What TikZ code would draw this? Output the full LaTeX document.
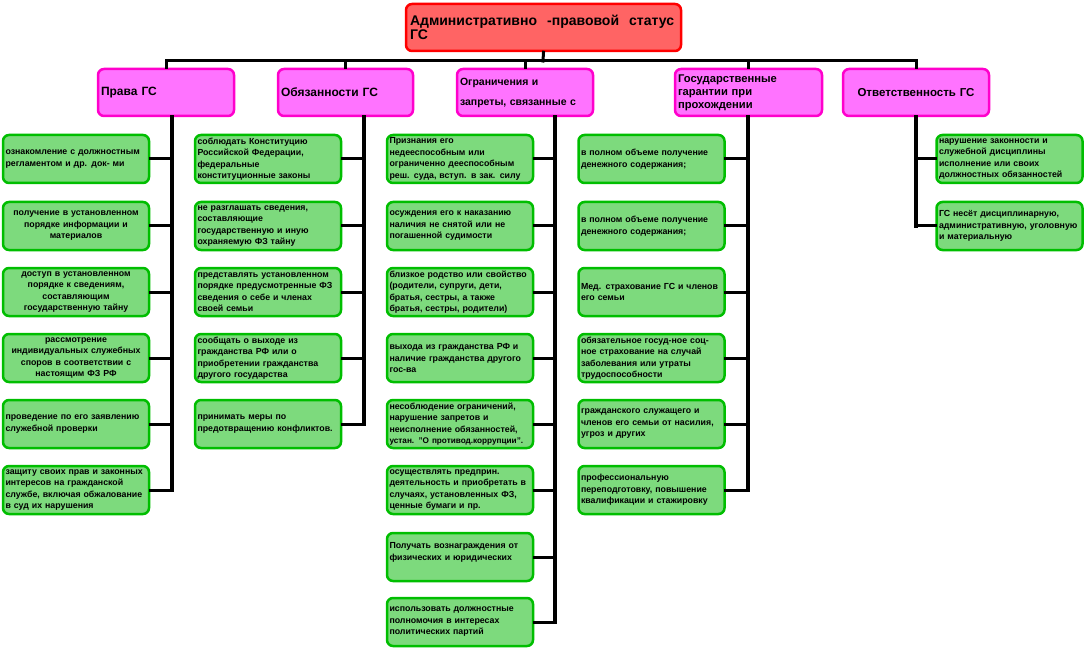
\documentclass[tikz,border=0pt]{standalone}
\usepackage{fontspec}
\setmainfont{Liberation Sans}
\usepackage{tikz}
\definecolor{leafgreen}{RGB}{0,190,0}
\definecolor{leaffill}{RGB}{125,218,125}
\definecolor{headmag}{RGB}{255,0,204}
\definecolor{headfill}{RGB}{255,115,255}
\definecolor{rootred}{RGB}{255,0,0}
\definecolor{rootfill}{RGB}{255,100,100}
\tikzset{%
    leaf/.style={%
        draw=leafgreen, fill=leaffill, line width=2.5pt, rounded corners=6pt,
        minimum width=146pt, minimum height=48pt, text width=141pt, inner sep=2.5pt,
        align=left, font=\fontsize{8.8}{11.5}\selectfont\bfseries
    },
    head/.style={%
        draw=headmag, fill=headfill, line width=2.5pt, rounded corners=6pt,
        minimum height=47pt, inner sep=3pt, align=left,
        font=\fontsize{12}{13}\selectfont\bfseries
    },
    root/.style={%
        draw=rootred, fill=rootfill, line width=2.5pt, rounded corners=6pt,
        minimum width=275pt, minimum height=47pt, text width=267pt, inner sep=4pt,
        align=left, font=\fontsize{14}{13.5}\selectfont\bfseries
    },
    link/.style={line width=3pt, line cap=rect},
    trunk/.style={line width=4pt, line cap=rect}
}

\begin{document}
\begin{tikzpicture}[x=1pt,y=-1pt]
    \useasboundingbox (0,0) rectangle (1088,650);
    \node[root] (status) at (543.5,27.5) {\makebox[264pt][s]{Административно\hfill -правовой\hfill статус}\\ГС};
    \node[head,text width=130pt] (prava) at (166,92.5) {Права ГС};
    \node[head,text width=129pt] (obyaz) at (345.5,92.5) {Обязанности ГС};
    \node[head,text width=130pt,font=\fontsize{10.5}{12}\selectfont\bfseries] (ogran) at (525,92.5) {Ограничения и\\[8pt]запреты, связанные с};
    \node[head,text width=141pt,font=\fontsize{11.2}{13}\selectfont\bfseries] (garant) at (748.5,92.5) {Государственные\\гарантии при\\прохождении};
    \node[head,text width=140pt,align=center,font=\fontsize{11.5}{13}\selectfont\bfseries] (otvet) at (916,92.5) {Ответственность ГС};
    % шина
    \coordinate (bus) at (543,61);
    \draw[link] (status.south) -- (bus);
    \draw[link] (prava.north) -- (prava.north |- bus) -- (otvet.north |- bus) -- (otvet.north);
    \foreach \h in {obyaz,ogran,garant}
    {
    \draw[link] (\h.north) -- (\h.north |- bus);
    }
    % права
    \coordinate (pbot) at (172,490);
    \draw[trunk] (prava.south -| pbot) -- (pbot);
    \foreach \y/\al/\txt [count=\i] in {%
        159/left/{ознакомление с должностным\\регламентом и др. док- ми},
        226/center/{получение в установленном\\порядке информации и\\материалов},
        292/center/{доступ в установленном\\порядке к сведениям,\\составляющим\\государственную тайну},
        358/center/{рассмотрение\\индивидуальных служебных\\споров в соответствии с\\настоящим ФЗ РФ},
        424/left/{проведение по его заявлению\\служебной проверки},
        490/left/{защиту своих прав и законных\\интересов на гражданской\\службе, включая обжалование\\в суд их нарушения}}
    {
    \node[leaf,align=\al] (p\i) at (76,\y) {\txt};
    \draw[link] (p\i.east) -- (p\i.east -| pbot);
    }
    % обязанности
    \coordinate (obot) at (364,424);
    \draw[trunk] (obyaz.south -| obot) -- (obot);
    \foreach \y/\txt [count=\i] in {%
        159/{соблюдать Конституцию\\Российской Федерации,\\федеральные\\конституционные законы},
        226/{не разглашать сведения,\\составляющие\\государственную и иную\\охраняемую ФЗ тайну},
        292/{представлять установленном\\порядке предусмотренные ФЗ\\сведения о себе и членах\\своей семьи},
        358/{сообщать о выходе из\\гражданства РФ или о\\приобретении гражданства\\другого государства},
        424/{принимать меры по\\предотвращению конфликтов.}}
    {
    \node[leaf] (o\i) at (268,\y) {\txt};
    \draw[link] (o\i.east) -- (o\i.east -| obot);
    }
    % ограничения и запреты
    \coordinate (zbot) at (555,622);
    \draw[trunk] (ogran.south -| zbot) -- (zbot);
    \foreach \y/\txt [count=\i] in {%
        159/{Признания его\\недееспособным или\\ограниченно дееспособным\\реш. суда, вступ. в зак. силу},
        226/{осуждения его к наказанию\\наличия не снятой или не\\погашенной судимости},
        292/{близкое родство или свойство\\(родители, супруги, дети,\\братья, сестры, а также\\братья, сестры, родители)},
        358/{выхода из гражданства РФ и\\наличие гражданства другого\\гос-ва},
        424/{несоблюдение ограничений,\\нарушение запретов и\\неисполнение обязанностей,\\\mbox{\fontsize{8.2}{11.5}\selectfont устан. "О противод.коррупции".}},
        490/{осуществлять предприн.\\деятельность и приобретать в\\случаях, установленных ФЗ,\\ценные бумаги и пр.},
        557/{Получать вознаграждения от\\физических и юридических\\~},
        622/{использовать должностные\\полномочия в интересах\\политических партий}}
    {
    \node[leaf] (z\i) at (460,\y) {\txt};
    \draw[link] (z\i.east) -- (z\i.east -| zbot);
    }
    % гарантии
    \coordinate (gbot) at (748,490);
    \draw[trunk] (garant.south -| gbot) -- (gbot);
    \foreach \y/\txt [count=\i] in {%
        159/{в полном объеме получение\\денежного содержания;},
        226/{в полном объеме получение\\денежного содержания;},
        292/{Мед. страхование ГС и членов\\его семьи},
        358/{обязательное госуд-ное соц-\\ное страхование на случай\\заболевания или утраты\\трудоспособности},
        424/{гражданского служащего и\\членов его семьи от насилия,\\угроз и других},
        490/{профессиональную\\переподготовку, повышение\\квалификации и стажировку}}
    {
    \node[leaf] (g\i) at (651.5,\y) {\txt};
    \draw[link] (g\i.east) -- (g\i.east -| gbot);
    }
    % ответственность
    \coordinate (rbot) at (916,226);
    \draw[trunk] (otvet.south) -- (rbot);
    \foreach \y/\txt [count=\i] in {%
        159/{нарушение законности и\\служебной дисциплины\\исполнение или своих\\должностных обязанностей},
        226/{ГС несёт дисциплинарную,\\административную, уголовную\\и материальную}}
    {
    \node[leaf] (r\i) at (1009.5,\y) {\txt};
    \draw[link] (r\i.west) -- (r\i.west -| rbot);
    }
\end{tikzpicture}
\end{document}
